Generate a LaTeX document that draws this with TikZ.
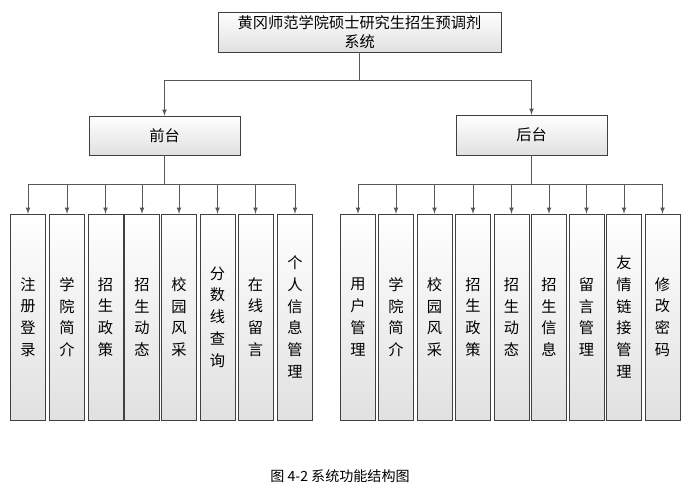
\documentclass[tikz,border=0pt]{standalone}
\usepackage{fontspec}
\setmainfont{Noto Sans CJK SC}
\usetikzlibrary{positioning}
\begin{document}
\begin{tikzpicture}[x=0.03cm,y=-0.03cm]
\tikzset{box/.style = {draw=black!75,top color=white,bottom color=black!12,inner sep=0pt}}
\tikzset{edge/.style = {-{latex[scale=1.4]},draw=black!65,thick}}
\tikzset{leaf/.style = {box,minimum width=1.05cm,minimum height=6.18cm,align=center,font=\fontsize{13}{18.5}\selectfont}}
\useasboundingbox (0,0) rectangle (694,499);
\node[box,minimum width=8.49cm,minimum height=1.2cm,align=center,font=\fontsize{13}{16}\selectfont] (root) at (359.5,32) {黄冈师范学院硕士研究生招生预调剂\\系统};
\node[box,minimum width=4.53cm,minimum height=1.17cm,font=\fontsize{13}{14}\selectfont] (front) at (164.5,135.5) {前台};
\node[box,minimum width=4.53cm,minimum height=1.2cm,font=\fontsize{13}{14}\selectfont] (back) at (531.5,135) {后台};
% front-end leaves
\foreach \n/\x/\t in {f1/28/{注\\册\\登\\录}, f2/67/{学\\院\\简\\介}, f3/105.5/{招\\生\\政\\策}, f4/142/{招\\生\\动\\态}, f5/179/{校\\园\\风\\采}, f6/217.5/{分\\数\\线\\查\\询}, f7/255.5/{在\\线\\留\\言}, f8/295/{个\\人\\信\\息\\管\\理}}
  \node[leaf] (\n) at (\x,317) {\t};
% back-end leaves
\foreach \n/\x/\t in {b1/358/{用\\户\\管\\理}, b2/396/{学\\院\\简\\介}, b3/434.5/{校\\园\\风\\采}, b4/473/{招\\生\\政\\策}, b5/511.5/{招\\生\\动\\态}, b6/549/{招\\生\\信\\息}, b7/586.5/{留\\言\\管\\理}, b8/624/{友\\情\\链\\接\\管\\理}, b9/662.5/{修\\改\\密\\码}}
  \node[leaf] (\n) at (\x,317) {\t};
\draw[edge] (root.south) -- ++(0,28) -| (front.north);
\draw[edge] (root.south) -- ++(0,28) -| (back.north);
\foreach \n in {f1,f2,f3,f4,f5,f6,f7,f8}
  \draw[edge] (front.south) -- ++(0,29) -| (\n.north);
\foreach \n in {b1,b2,b3,b4,b5,b6,b7,b8,b9}
  \draw[edge] (back.south) -- ++(0,29) -| (\n.north);
\node[font=\fontsize{12}{14}\selectfont] (cap) at (340,476) {图 4-2 系统功能结构图};
\end{tikzpicture}
\end{document}
